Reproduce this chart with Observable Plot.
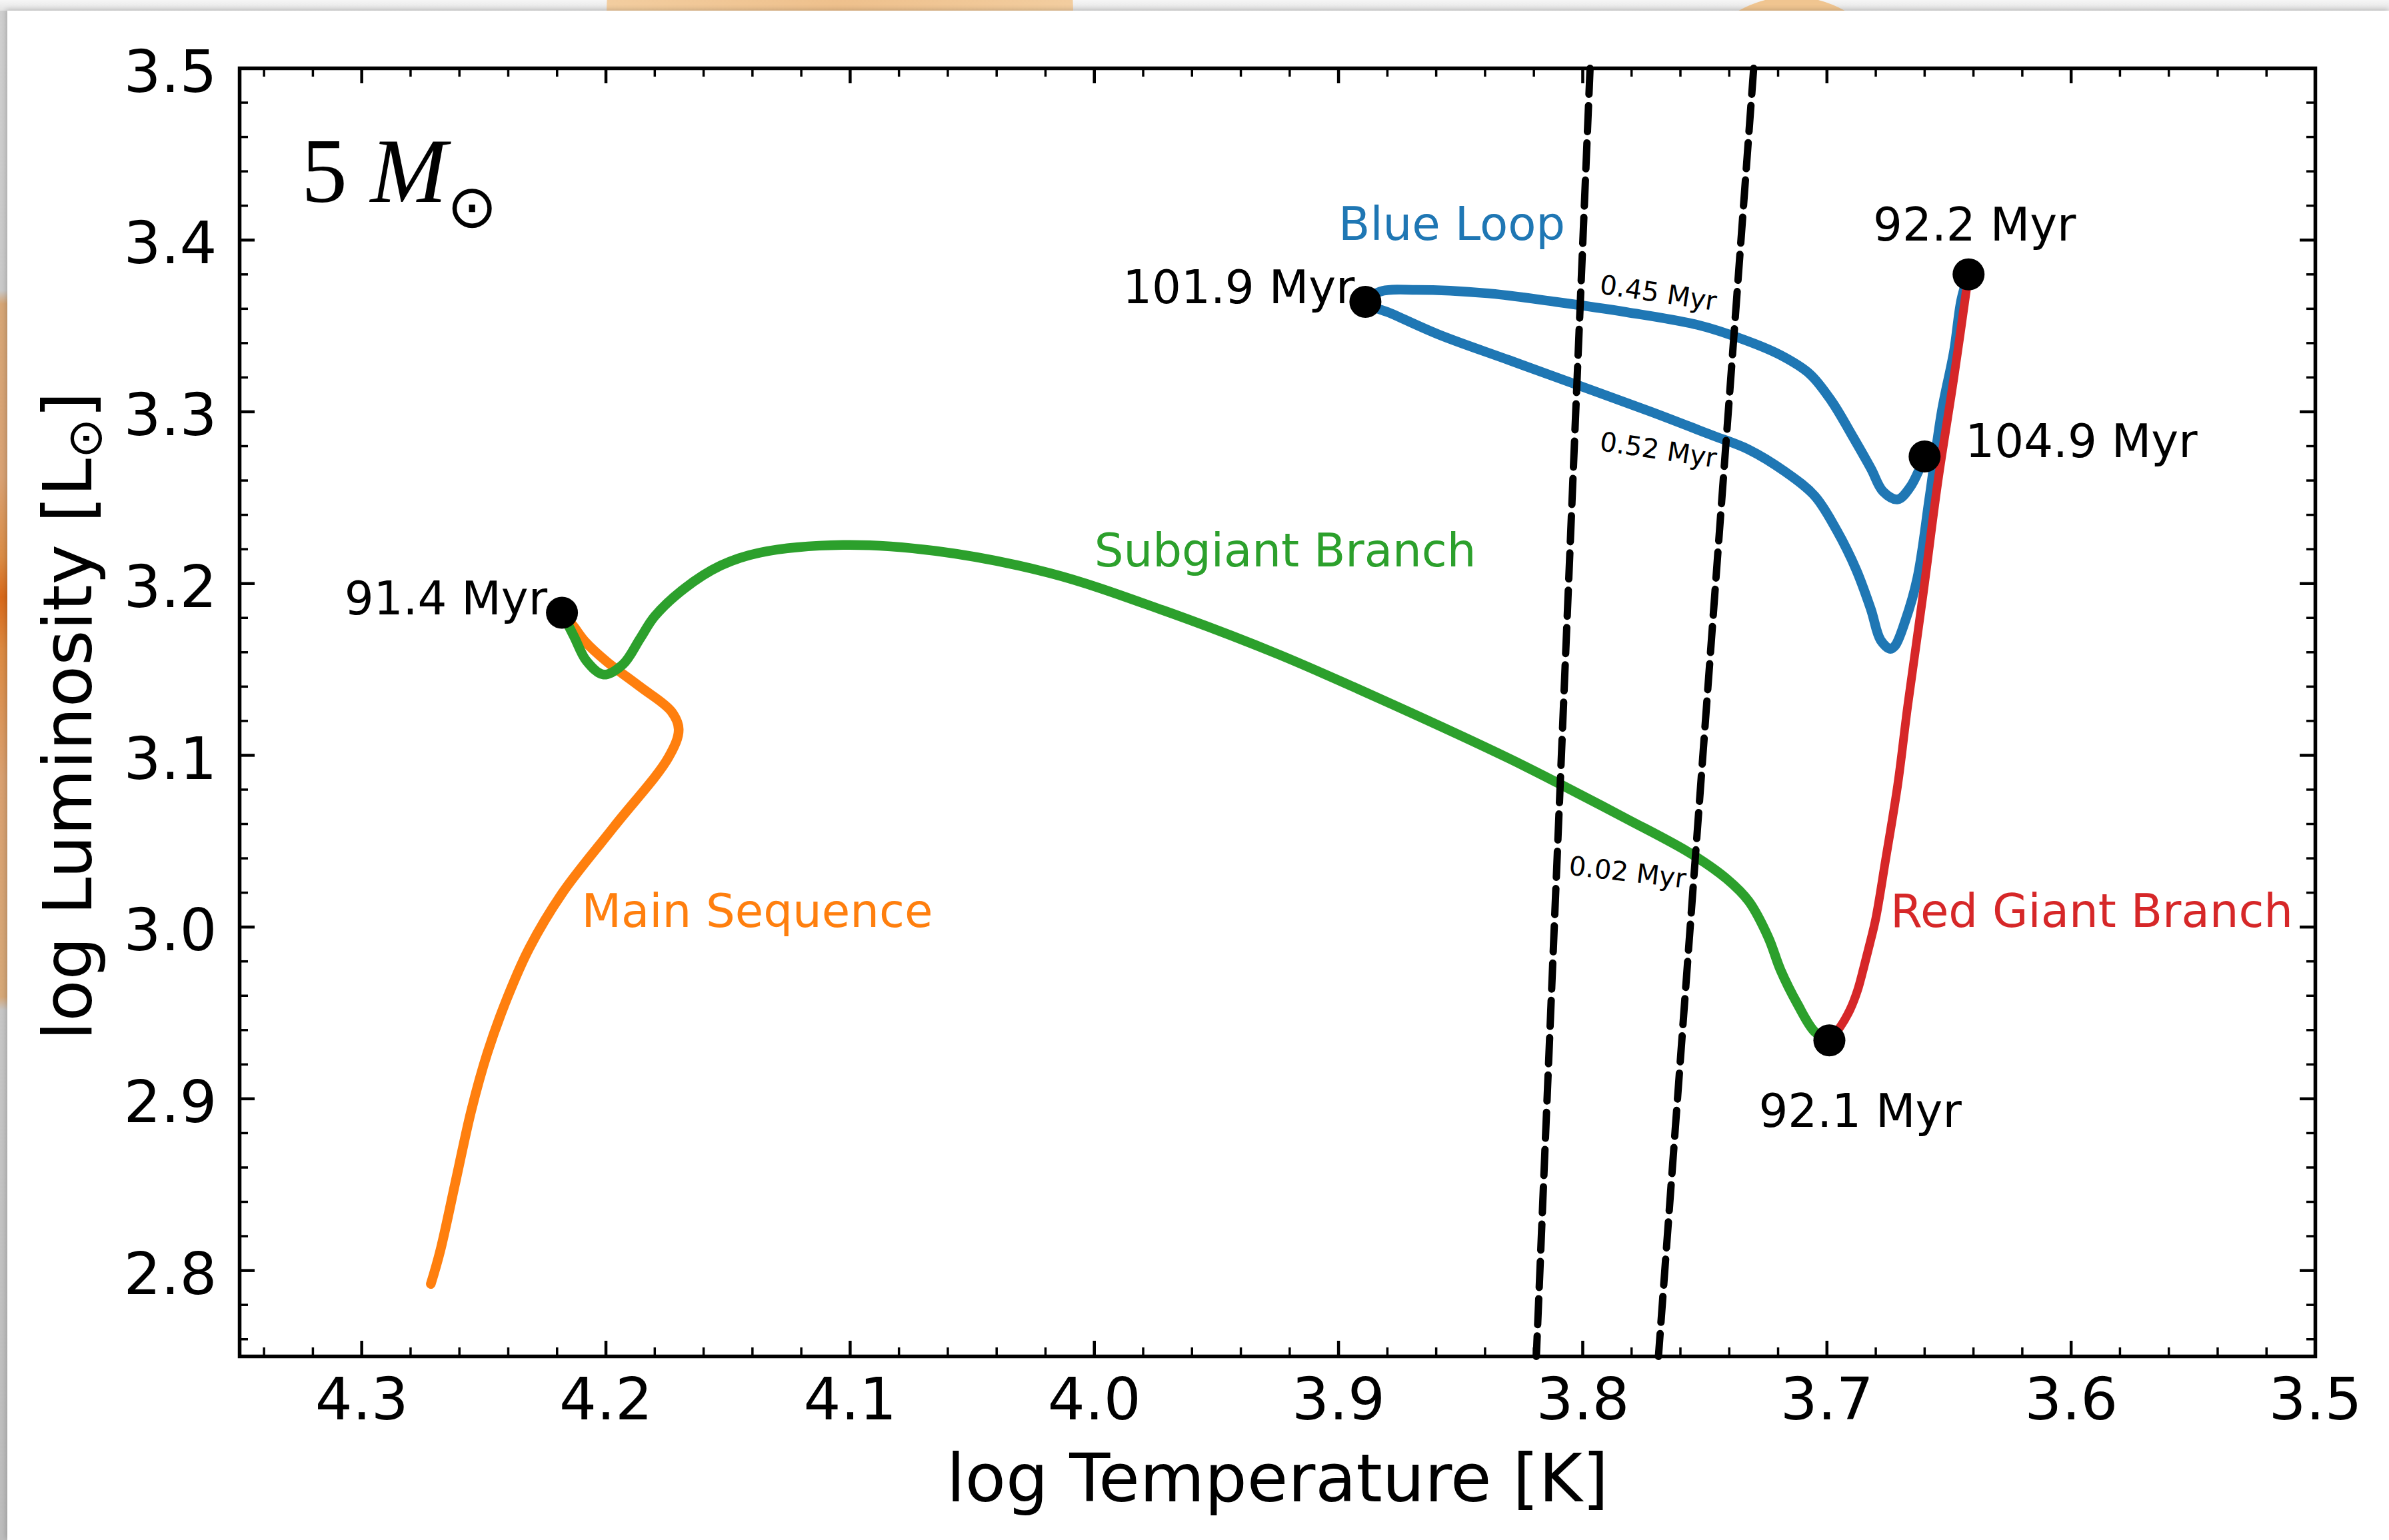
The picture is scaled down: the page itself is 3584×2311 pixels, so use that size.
<!DOCTYPE html>
<html>
<head>
<meta charset="utf-8">
<script src="https://cdn.jsdelivr.net/npm/d3@7"></script>
<script src="https://cdn.jsdelivr.net/npm/@observablehq/plot@0.6"></script>
<style>
html, body { margin: 0; padding: 0; }
body { width: 3584px; height: 2311px; position: relative; overflow: hidden; background: #d4d4d4; font-family: "DejaVu Sans", sans-serif; }
#topstrip { position: absolute; left: 0; top: 0; width: 3584px; height: 16px; background: linear-gradient(#f6f6f6, #e3e3e3); overflow: hidden; }
.blob { position: absolute; border-radius: 50%; }
#leftstrip { position: absolute; left: 0; top: 16px; width: 11px; height: 2295px;
  background: linear-gradient(#cfcfcf 0px, #c9c9c9 420px, #d6a676 440px, #d9a274 700px, #db8c45 820px, #d8691a 880px, #dc8a42 960px, #d9a070 1150px, #d6a878 1480px, #c6c6c6 1500px, #bcbcbc 2295px); }
#card { position: absolute; left: 11px; top: 16px; width: 3573px; height: 2295px; background: #ffffff; box-shadow: -2px -2px 7px rgba(0,0,0,0.18); }
#chart { position: absolute; left: 0; top: 0; }
</style>
</head>
<body>
<div id="topstrip">
  <div class="blob" style="left:910px; top:-330px; width:700px; height:700px; background:radial-gradient(circle at 50% 50%, #eec08c 0%, #f3cfa2 80%, #f7dbb6 100%);"></div>
  <div class="blob" style="left:2527px; top:-5px; width:322px; height:322px; background:#f0c590;"></div>
</div>
<div id="leftstrip"></div>
<div id="card"></div>
<div id="chart"></div>
<script>
// ---- data (log Teff, log L) ----
const msTeff  = [4.2717, 4.2679, 4.2615, 4.2551, 4.2486, 4.2406, 4.2315, 4.2179, 4.1967, 4.1743, 4.1702, 4.1732, 4.1860, 4.1997, 4.2087, 4.2133, 4.2180];
const msLum   = [2.7922, 2.8112, 2.8523, 2.8934, 2.9265, 2.9581, 2.9874, 3.0197, 3.0584, 3.0990, 3.1151, 3.1255, 3.1399, 3.1546, 3.1665, 3.1752, 3.1830];

const sgbTeff = [4.218, 4.213, 4.208, 4.201, 4.193, 4.186, 4.180, 4.168, 4.153, 4.137, 4.103, 4.065, 4.018, 3.972, 3.925, 3.877, 3.830, 3.809, 3.782, 3.756, 3.741, 3.732, 3.724, 3.719, 3.712, 3.705, 3.699];
const sgbLum  = [3.183, 3.169, 3.155, 3.147, 3.153, 3.168, 3.181, 3.197, 3.2105, 3.218, 3.2225, 3.219, 3.206, 3.1845, 3.159, 3.129, 3.098, 3.083, 3.063, 3.043, 3.028, 3.015, 2.994, 2.975, 2.955, 2.939, 2.934];

const rgbTeff = [3.699, 3.6945, 3.6905, 3.6875, 3.685, 3.6825, 3.680, 3.676, 3.671, 3.667, 3.6605, 3.6545, 3.648, 3.642];
const rgbLum  = [2.934, 2.942, 2.952, 2.963, 2.976, 2.990, 3.005, 3.039, 3.083, 3.128, 3.195, 3.260, 3.320, 3.380];

const blTeff  = [3.642, 3.645, 3.648, 3.653, 3.658, 3.663, 3.668, 3.672, 3.674, 3.678, 3.682, 3.688, 3.696, 3.705, 3.717, 3.732, 3.7475, 3.772, 3.801, 3.830, 3.859, 3.878, 3.889,
                 3.883, 3.868, 3.839, 3.811, 3.782, 3.753, 3.734, 3.719, 3.707, 3.698, 3.690, 3.682, 3.677, 3.671, 3.666, 3.662, 3.660];
const blLum   = [3.380, 3.365, 3.335, 3.300, 3.250, 3.203, 3.178, 3.164, 3.162, 3.167, 3.185, 3.208, 3.231, 3.251, 3.265, 3.278, 3.2866, 3.300, 3.315, 3.330, 3.345, 3.357, 3.364,
                 3.370, 3.371, 3.369, 3.364, 3.358, 3.3506, 3.342, 3.333, 3.322, 3.306, 3.287, 3.267, 3.2536, 3.249, 3.256, 3.267, 3.274];

// instability strip edges
const stripLum      = [3.50, 2.75];
const stripBlueTeff = [3.797, 3.819];
const stripRedTeff  = [3.730, 3.769];

// marked ages
const ageLabels = ["91.4 Myr", "92.1 Myr", "92.2 Myr", "101.9 Myr", "104.9 Myr"];
const ageTeff   = [4.218, 3.699, 3.642, 3.889, 3.660];
const ageLum    = [3.183, 2.934, 3.380, 3.364, 3.274];

// phase names
const phaseNames  = ["Main Sequence", "Subgiant Branch", "Red Giant Branch", "Blue Loop"];
const phaseColors = ["#ff7f0e", "#2ca02c", "#d62728", "#1f77b4"];
const phaseTeff   = [4.21, 4.00, 3.674, 3.90];
const phaseLum    = [3.00, 3.21, 3.00, 3.40];

// strip crossing times
const crossLabels = ["0.45 Myr", "0.52 Myr", "0.02 Myr"];
const crossTeff   = [3.7934, 3.7934, 3.806];
const crossLum    = [3.369, 3.2776, 3.0305];

// ticks
const xTicks = [4.3, 4.2, 4.1, 4.0, 3.9, 3.8, 3.7, 3.6, 3.5];
const yTicks = [2.8, 2.9, 3.0, 3.1, 3.2, 3.3, 3.4, 3.5];
const xMinor = d3.range(176, 218).filter(k => k % 5 !== 0).map(k => k / 50);
const yMinor = d3.range(138, 175).filter(k => k % 5 !== 0).map(k => k / 50);

// ---- layout ----
const W = 3584, H = 2311;
const mL = 359, mR = 111, mT = 102, mB = 276;
const FH = H - mT - mB, FW = W - mL - mR;
const zip = (a, b) => a.map((t, i) => ({T: t, L: b[i]}));
const trackW = 14.5;

const ageLabel = (i, o) => Plot.text([i], {x: d => ageTeff[d], y: d => ageLum[d], text: d => ageLabels[d], fontSize: 69, fill: "black", lineAnchor: "bottom", ...o});
const crossLabel = (i, o) => Plot.text([i], {x: d => crossTeff[d], y: d => crossLum[d], text: d => crossLabels[d], fontSize: 40, fill: "black", lineAnchor: "bottom", textAnchor: "start", ...o});

const chart = Plot.plot({
  width: W, height: H,
  marginLeft: mL, marginRight: mR, marginTop: mT, marginBottom: mB,
  x: {domain: [4.35, 3.5], axis: null},
  y: {domain: [2.75, 3.5], axis: null},
  color: {type: "identity"},
  style: {background: "transparent", fontFamily: "DejaVu Sans", fontSize: "69px"},
  marks: [
    Plot.line(zip(msTeff, msLum),   {x: "T", y: "L", stroke: phaseColors[0], strokeWidth: trackW, curve: "catmull-rom", strokeLinejoin: "round"}),
    Plot.line(zip(sgbTeff, sgbLum), {x: "T", y: "L", stroke: phaseColors[1], strokeWidth: trackW, curve: "catmull-rom", strokeLinejoin: "round"}),
    Plot.line(zip(blTeff, blLum),   {x: "T", y: "L", stroke: phaseColors[3], strokeWidth: trackW, curve: "catmull-rom", strokeLinejoin: "round"}),
    Plot.line(zip(rgbTeff, rgbLum), {x: "T", y: "L", stroke: phaseColors[2], strokeWidth: 13, curve: "catmull-rom", strokeLinejoin: "round"}),
    Plot.line(zip(stripBlueTeff, stripLum), {x: "T", y: "L", stroke: "black", strokeWidth: 11, strokeDasharray: "39,17"}),
    Plot.line(zip(stripRedTeff, stripLum),  {x: "T", y: "L", stroke: "black", strokeWidth: 11, strokeDasharray: "39,17"}),
    Plot.dot(zip(ageTeff, ageLum), {x: "T", y: "L", r: 24, fill: "black"}),

    ageLabel(0, {textAnchor: "end", dx: -22, dy: 2}),
    ageLabel(1, {textAnchor: "start", dx: -106, dy: 130}),
    ageLabel(2, {textAnchor: "middle", dx: 9, dy: -51}),
    ageLabel(3, {textAnchor: "end", dx: -16, dy: 2}),
    ageLabel(4, {textAnchor: "start", dx: 61, dy: 1}),

    Plot.text(phaseNames.map((n, i) => i), {x: i => phaseTeff[i], y: i => phaseLum[i], text: i => phaseNames[i], fill: i => phaseColors[i], fontSize: 69, textAnchor: "start", lineAnchor: "bottom"}),

    crossLabel(0, {rotate: 8.5}),
    crossLabel(1, {rotate: 8.5}),
    crossLabel(2, {rotate: 6.5}),

    Plot.frame({stroke: "black", strokeWidth: 5.5}),
    // inward ticks on all four sides
    Plot.ruleX(xTicks, {x: d => d, insetTop: FH - 23, stroke: "black", strokeWidth: 4.5}),
    Plot.ruleX(xTicks, {x: d => d, insetBottom: FH - 23, stroke: "black", strokeWidth: 4.5}),
    Plot.ruleX(xMinor, {x: d => d, insetTop: FH - 13, stroke: "black", strokeWidth: 3.5}),
    Plot.ruleX(xMinor, {x: d => d, insetBottom: FH - 13, stroke: "black", strokeWidth: 3.5}),
    Plot.ruleY(yTicks, {y: d => d, insetRight: FW - 23, stroke: "black", strokeWidth: 4.5}),
    Plot.ruleY(yTicks, {y: d => d, insetLeft: FW - 23, stroke: "black", strokeWidth: 4.5}),
    Plot.ruleY(yMinor, {y: d => d, insetRight: FW - 13, stroke: "black", strokeWidth: 3.5}),
    Plot.ruleY(yMinor, {y: d => d, insetLeft: FW - 13, stroke: "black", strokeWidth: 3.5}),

    Plot.text(xTicks, {x: d => d, frameAnchor: "bottom", dy: 32, lineAnchor: "top", text: d => d.toFixed(1), fontSize: 88, fill: "black"}),
    Plot.text(yTicks, {y: d => d, frameAnchor: "left", dx: -34, dy: 7, textAnchor: "end", lineAnchor: "middle", text: d => d.toFixed(1), fontSize: 88, fill: "black"}),
    Plot.text(["log Temperature [K]"], {frameAnchor: "bottom", dy: 217, lineAnchor: "bottom", text: d => d, fontSize: 100, fill: "black"})
  ]
});

document.getElementById("chart").appendChild(chart);

const svg = d3.select(chart);
// y-axis title with subscript sun symbol
const yl = svg.append("text")
  .attr("transform", `translate(137,${mT + FH / 2 + 6}) rotate(-90)`)
  .attr("text-anchor", "middle")
  .attr("font-family", "DejaVu Sans")
  .attr("font-size", 102)
  .attr("fill", "black");
yl.append("tspan").text("log Luminosity [L");
yl.append("tspan").attr("font-size", 72).attr("dy", 15).text("\u2299");
yl.append("tspan").attr("dy", -15).text("]");

// mass label
const ml = svg.append("text")
  .attr("x", 452).attr("y", 303)
  .attr("text-anchor", "start")
  .attr("font-family", "Liberation Serif")
  .attr("font-size", 138)
  .attr("fill", "black");
ml.append("tspan").text("5 ");
ml.append("tspan").attr("font-style", "italic").text("M");
ml.append("tspan").attr("font-family", "DejaVu Sans").attr("font-size", 90).attr("dy", 38).text("\u2299");
</script>
</body>
</html>
